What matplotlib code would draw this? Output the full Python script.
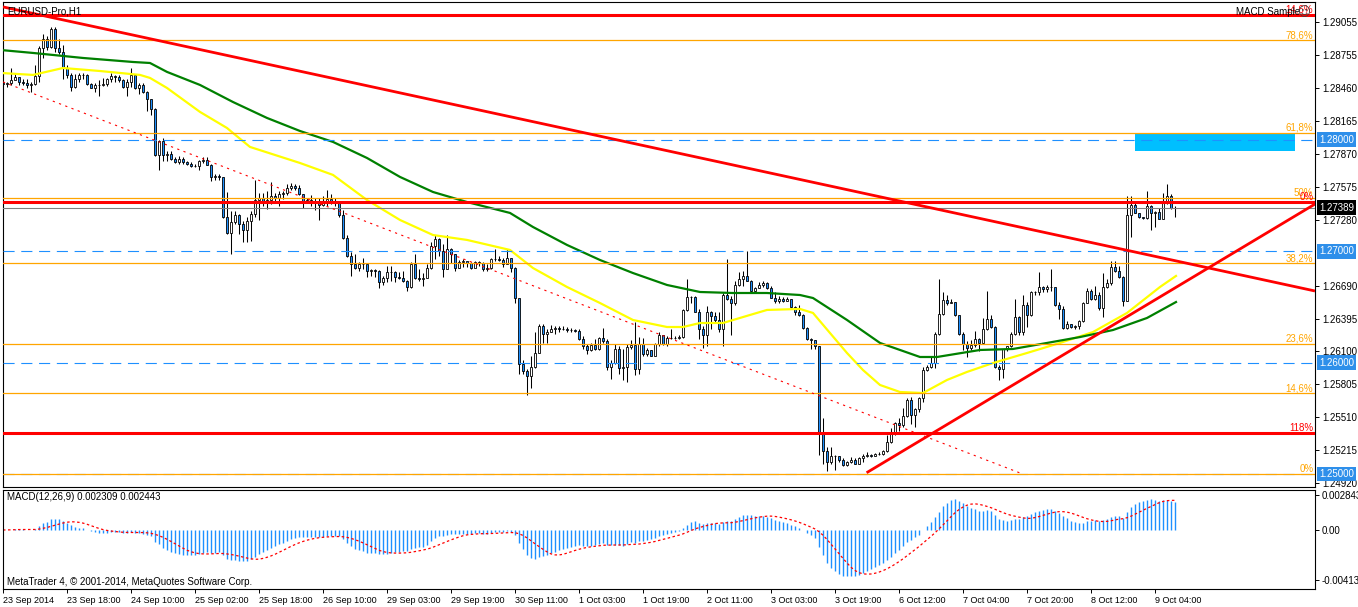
import numpy as np
import pandas as pd
import matplotlib
matplotlib.use('Agg')
import matplotlib.pyplot as plt
import matplotlib.transforms as mtransforms

plt.rcParams['font.family'] = ['Liberation Sans', 'DejaVu Sans']
plt.rcParams['font.size'] = 7

# EURUSD H1 candles, bar 0 = 23 Sep 2014 02:00 (open of each bar = previous close)
first_open = 1.2851
closes = [
    1.2850, 1.2851, 1.2853, 1.2856, 1.2852, 1.2851, 1.2849, 1.2850, 1.2857, 1.2882,
    1.2890, 1.2883, 1.2899, 1.2882, 1.2879, 1.2864, 1.2858, 1.2847, 1.2854, 1.2858,
    1.2858, 1.2850, 1.2846, 1.2849, 1.2849, 1.2850, 1.2854, 1.2857, 1.2856, 1.2853,
    1.2847, 1.2852, 1.2858, 1.2846, 1.2849, 1.2843, 1.2836, 1.2827, 1.2786, 1.2799,
    1.2786, 1.2787, 1.2783, 1.2780, 1.2783, 1.2780, 1.2778, 1.2776, 1.2776, 1.2781,
    1.2782, 1.2777, 1.2766, 1.2767, 1.2766, 1.2731, 1.2716, 1.2726, 1.2732, 1.2724,
    1.2719, 1.2727, 1.2733, 1.2746, 1.2748, 1.2744, 1.2746, 1.2749, 1.2748, 1.2751,
    1.2752, 1.2757, 1.2758, 1.2757, 1.2751, 1.2745, 1.2746, 1.2743, 1.2744, 1.2741,
    1.2745, 1.2747, 1.2745, 1.2745, 1.2732, 1.2712, 1.2696, 1.2688, 1.2685, 1.2688,
    1.2688, 1.2682, 1.2683, 1.2682, 1.2672, 1.2676, 1.2681, 1.2681, 1.2677, 1.2676,
    1.2673, 1.2668, 1.2688, 1.2676, 1.2675, 1.2676, 1.2685, 1.2705, 1.2711, 1.2700,
    1.2684, 1.2702, 1.2697, 1.2685, 1.2690, 1.2691, 1.2689, 1.2685, 1.2690, 1.2689,
    1.2684, 1.2685, 1.2693, 1.2693, 1.2692, 1.2688, 1.2694, 1.2685, 1.2658, 1.2599,
    1.2592, 1.2588, 1.2596, 1.2609, 1.2633, 1.2626, 1.2627, 1.2630, 1.2631, 1.2630,
    1.2630, 1.2629, 1.2629, 1.2628, 1.2621, 1.2615, 1.2611, 1.2616, 1.2612, 1.2622,
    1.2619, 1.2596, 1.2600, 1.2612, 1.2595, 1.2596, 1.2614, 1.2616, 1.2594, 1.2617,
    1.2608, 1.2611, 1.2606, 1.2617, 1.2625, 1.2617, 1.2622, 1.2622, 1.2622, 1.2623,
    1.2647, 1.2659, 1.2659, 1.2645, 1.2630, 1.2625, 1.2645, 1.2642, 1.2638, 1.2630,
    1.2661, 1.2657, 1.2653, 1.2670, 1.2675, 1.2678, 1.2673, 1.2664, 1.2667, 1.2670,
    1.2671, 1.2667, 1.2658, 1.2655, 1.2657, 1.2655, 1.2657, 1.2650, 1.2645, 1.2643,
    1.2631, 1.2621, 1.2620, 1.2615, 1.2538, 1.2521, 1.2511, 1.2516, 1.2516, 1.2513,
    1.2508, 1.2511, 1.2513, 1.2509, 1.2514, 1.2516, 1.2517, 1.2516, 1.2518, 1.2518,
    1.2521, 1.2529, 1.2536, 1.2546, 1.2544, 1.2552, 1.2566, 1.2553, 1.2558, 1.2568,
    1.2593, 1.2596, 1.2600, 1.2626, 1.2644, 1.2656, 1.2653, 1.2654, 1.2643, 1.2626,
    1.2617, 1.2613, 1.2616, 1.2621, 1.2618, 1.2630, 1.2639, 1.2632, 1.2596, 1.2594,
    1.2612, 1.2615, 1.2626, 1.2641, 1.2627, 1.2652, 1.2643, 1.2663, 1.2663, 1.2668,
    1.2666, 1.2668, 1.2668, 1.2652, 1.2648, 1.2631, 1.2635, 1.2632, 1.2633, 1.2637,
    1.2653, 1.2664, 1.2657, 1.2661, 1.2649, 1.2668, 1.2671, 1.2686, 1.2682, 1.2677,
    1.2655, 1.2732, 1.2741, 1.2734, 1.2731, 1.2730, 1.2740, 1.2734, 1.2735, 1.2729,
    1.2743, 1.2749, 1.2739, 1.2739,
]
highs = [
    1.2852, 1.2852, 1.2864, 1.2860, 1.2855, 1.2854, 1.2854, 1.2852, 1.2867, 1.2884,
    1.2895, 1.2893, 1.2901, 1.2901, 1.2890, 1.2885, 1.2867, 1.2860, 1.2859, 1.2860,
    1.2860, 1.2859, 1.2851, 1.2851, 1.2853, 1.2855, 1.2855, 1.2860, 1.2858, 1.2858,
    1.2854, 1.2854, 1.2864, 1.2859, 1.2851, 1.2851, 1.2844, 1.2836, 1.2828, 1.2800,
    1.2801, 1.2790, 1.2790, 1.2784, 1.2785, 1.2784, 1.2781, 1.2780, 1.2778, 1.2782,
    1.2784, 1.2784, 1.2778, 1.2769, 1.2769, 1.2766, 1.2753, 1.2736, 1.2736, 1.2733,
    1.2727, 1.2731, 1.2736, 1.2764, 1.2752, 1.2752, 1.2754, 1.2762, 1.2752, 1.2754,
    1.2754, 1.2760, 1.2761, 1.2760, 1.2759, 1.2751, 1.2748, 1.2750, 1.2748, 1.2748,
    1.2749, 1.2755, 1.2751, 1.2748, 1.2745, 1.2737, 1.2714, 1.2699, 1.2697, 1.2690,
    1.2694, 1.2685, 1.2684, 1.2684, 1.2683, 1.2678, 1.2687, 1.2687, 1.2682, 1.2681,
    1.2682, 1.2674, 1.2690, 1.2697, 1.2684, 1.2680, 1.2688, 1.2708, 1.2714, 1.2712,
    1.2706, 1.2714, 1.2703, 1.2697, 1.2692, 1.2693, 1.2690, 1.2690, 1.2691, 1.2691,
    1.2690, 1.2688, 1.2694, 1.2702, 1.2696, 1.2694, 1.2702, 1.2694, 1.2686, 1.2657,
    1.2602, 1.2594, 1.2606, 1.2627, 1.2635, 1.2635, 1.2630, 1.2634, 1.2633, 1.2633,
    1.2633, 1.2632, 1.2631, 1.2630, 1.2630, 1.2624, 1.2617, 1.2618, 1.2621, 1.2623,
    1.2631, 1.2621, 1.2602, 1.2617, 1.2615, 1.2612, 1.2617, 1.2620, 1.2636, 1.2623,
    1.2622, 1.2613, 1.2611, 1.2618, 1.2627, 1.2621, 1.2624, 1.2630, 1.2624, 1.2625,
    1.2648, 1.2675, 1.2660, 1.2660, 1.2648, 1.2633, 1.2651, 1.2646, 1.2645, 1.2645,
    1.2662, 1.2693, 1.2660, 1.2673, 1.2681, 1.2682, 1.2700, 1.2674, 1.2668, 1.2672,
    1.2673, 1.2672, 1.2669, 1.2663, 1.2660, 1.2659, 1.2659, 1.2657, 1.2651, 1.2652,
    1.2644, 1.2632, 1.2622, 1.2620, 1.2615, 1.2550, 1.2524, 1.2524, 1.2517, 1.2516,
    1.2514, 1.2512, 1.2515, 1.2514, 1.2515, 1.2518, 1.2520, 1.2518, 1.2519, 1.2520,
    1.2522, 1.2535, 1.2541, 1.2547, 1.2550, 1.2559, 1.2568, 1.2569, 1.2559, 1.2569,
    1.2596, 1.2598, 1.2605, 1.2627, 1.2675, 1.2663, 1.2661, 1.2657, 1.2654, 1.2643,
    1.2627, 1.2619, 1.2620, 1.2628, 1.2622, 1.2640, 1.2664, 1.2643, 1.2633, 1.2598,
    1.2612, 1.2615, 1.2627, 1.2657, 1.2642, 1.2661, 1.2654, 1.2664, 1.2664, 1.2681,
    1.2669, 1.2670, 1.2684, 1.2665, 1.2654, 1.2651, 1.2637, 1.2635, 1.2634, 1.2638,
    1.2654, 1.2667, 1.2666, 1.2669, 1.2663, 1.2680, 1.2675, 1.2691, 1.2691, 1.2687,
    1.2678, 1.2749, 1.2749, 1.2743, 1.2734, 1.2731, 1.2754, 1.2741, 1.2736, 1.2739,
    1.2752, 1.2760, 1.2751, 1.2740,
]
lows = [
    1.2848, 1.2847, 1.2849, 1.2854, 1.2849, 1.2849, 1.2846, 1.2843, 1.2849, 1.2852,
    1.2873, 1.2880, 1.2882, 1.2879, 1.2877, 1.2854, 1.2855, 1.2844, 1.2846, 1.2852,
    1.2854, 1.2849, 1.2846, 1.2843, 1.2839, 1.2848, 1.2848, 1.2852, 1.2852, 1.2852,
    1.2846, 1.2839, 1.2847, 1.2845, 1.2841, 1.2842, 1.2826, 1.2822, 1.2785, 1.2773,
    1.2781, 1.2781, 1.2782, 1.2779, 1.2778, 1.2778, 1.2777, 1.2775, 1.2775, 1.2773,
    1.2779, 1.2777, 1.2763, 1.2764, 1.2764, 1.2730, 1.2715, 1.2697, 1.2724, 1.2715,
    1.2708, 1.2708, 1.2709, 1.2731, 1.2728, 1.2740, 1.2738, 1.2742, 1.2743, 1.2740,
    1.2747, 1.2750, 1.2755, 1.2755, 1.2750, 1.2739, 1.2743, 1.2740, 1.2737, 1.2728,
    1.2740, 1.2740, 1.2742, 1.2740, 1.2731, 1.2711, 1.2695, 1.2678, 1.2684, 1.2682,
    1.2684, 1.2677, 1.2678, 1.2677, 1.2667, 1.2670, 1.2672, 1.2673, 1.2672, 1.2675,
    1.2672, 1.2664, 1.2667, 1.2675, 1.2673, 1.2669, 1.2677, 1.2684, 1.2693, 1.2696,
    1.2677, 1.2684, 1.2689, 1.2682, 1.2685, 1.2686, 1.2686, 1.2684, 1.2686, 1.2687,
    1.2682, 1.2682, 1.2684, 1.2691, 1.2691, 1.2686, 1.2688, 1.2681, 1.2653, 1.2590,
    1.2590, 1.2571, 1.2577, 1.2595, 1.2611, 1.2618, 1.2618, 1.2627, 1.2626, 1.2627,
    1.2629, 1.2627, 1.2627, 1.2627, 1.2620, 1.2612, 1.2608, 1.2610, 1.2611, 1.2611,
    1.2618, 1.2593, 1.2585, 1.2599, 1.2590, 1.2584, 1.2583, 1.2612, 1.2589, 1.2590,
    1.2606, 1.2606, 1.2606, 1.2606, 1.2615, 1.2616, 1.2615, 1.2621, 1.2621, 1.2621,
    1.2622, 1.2646, 1.2653, 1.2645, 1.2621, 1.2613, 1.2615, 1.2630, 1.2636, 1.2627,
    1.2615, 1.2656, 1.2625, 1.2652, 1.2669, 1.2669, 1.2673, 1.2663, 1.2662, 1.2667,
    1.2668, 1.2666, 1.2658, 1.2653, 1.2653, 1.2654, 1.2655, 1.2649, 1.2643, 1.2642,
    1.2630, 1.2620, 1.2612, 1.2612, 1.2517, 1.2509, 1.2503, 1.2509, 1.2504, 1.2511,
    1.2507, 1.2507, 1.2510, 1.2509, 1.2509, 1.2511, 1.2515, 1.2515, 1.2516, 1.2517,
    1.2517, 1.2520, 1.2528, 1.2535, 1.2539, 1.2542, 1.2551, 1.2545, 1.2542, 1.2556,
    1.2565, 1.2592, 1.2595, 1.2595, 1.2625, 1.2643, 1.2652, 1.2653, 1.2642, 1.2625,
    1.2611, 1.2605, 1.2611, 1.2614, 1.2610, 1.2617, 1.2629, 1.2631, 1.2595, 1.2584,
    1.2586, 1.2610, 1.2614, 1.2625, 1.2625, 1.2625, 1.2632, 1.2642, 1.2661, 1.2661,
    1.2663, 1.2663, 1.2664, 1.2651, 1.2639, 1.2630, 1.2630, 1.2631, 1.2630, 1.2630,
    1.2636, 1.2653, 1.2656, 1.2656, 1.2647, 1.2641, 1.2667, 1.2670, 1.2681, 1.2676,
    1.2651, 1.2655, 1.2713, 1.2734, 1.2730, 1.2729, 1.2729, 1.2719, 1.2722, 1.2729,
    1.2729, 1.2742, 1.2738, 1.2731,
]

# moving averages (bar index, price)
yellow_bar = [-0.75, 7.5, 15, 24.25, 34.25, 36.75, 41, 49.25, 56, 57.5, 61.75, 74.25, 82.5, 91,
              99.25, 107.5, 116, 126.75, 132.5, 141, 149.25, 157.5, 166, 170, 174.25, 180,
              186.75, 191, 199.25, 202.5, 206.75, 211, 215, 219.25, 224.25, 230, 236, 241,
              247.5, 256, 264.25, 272.5, 281, 289.25, 293.25]
yellow_val = [1.28598, 1.28580, 1.28642, 1.28615, 1.28580, 1.28553, 1.28463, 1.28248, 1.28104,
              1.28059, 1.27934, 1.27790, 1.27683, 1.27458, 1.27279, 1.27144, 1.27100, 1.27010,
              1.26848, 1.26678, 1.26534, 1.26382, 1.26319, 1.26319, 1.26355, 1.26355, 1.26427,
              1.26472, 1.26481, 1.26445, 1.26265, 1.26086, 1.25933, 1.25799, 1.25736, 1.25727,
              1.25844, 1.25916, 1.25996, 1.26086, 1.26176, 1.26274, 1.26445, 1.26678, 1.26777]
green_bar = [-0.75, 7.5, 20, 32.5, 36.75, 41, 49.25, 57.5, 66, 74.25, 82.5, 91, 99.25, 107.5,
             116, 126.75, 132.5, 141, 149.25, 157.5, 166, 174.25, 182.5, 191, 199.25, 202.5,
             211, 219.25, 229.25, 233.5, 244.25, 252.5, 261, 269.25, 277.5, 286, 293.25]
green_val = [1.28804, 1.28777, 1.28732, 1.28696, 1.28687, 1.28607, 1.28490, 1.28337, 1.28194,
             1.28077, 1.27979, 1.27835, 1.27665, 1.27530, 1.27440, 1.27342, 1.27216, 1.27055,
             1.26920, 1.26803, 1.26696, 1.26633, 1.26624, 1.26624, 1.26606, 1.26579, 1.26382,
             1.26176, 1.26050, 1.26050, 1.26113, 1.26122, 1.26176, 1.26229, 1.26292, 1.26400,
             1.26543]

# chart objects
fib_low, fib_high = 1.2500, 1.2995
fib_levels = [0, 14.6, 23.6, 38.2, 50, 61.8, 78.6]
fib_labels = ['0%', '14,6%', '23,6%', '38,2%', '50%', '61,8%', '78,6%']
red_levels = [1.29120, 1.27443, 1.25371]
red_labels = ['14,6%', '0%', '118%']
round_levels = [1.2800, 1.2700, 1.2600, 1.2500]
last_price = 1.27389
down_trend = ([0, 328], [1.29190, 1.26642])
up_trend = ([215.9, 328], [1.25012, 1.27422])
dotted_trend = ([0, 254.25], [1.28517, 1.25010])
zone = (283, 323, 1.27899, 1.28055)

price_ticks = [1.29055, 1.28755, 1.28460, 1.28165, 1.27870, 1.27575, 1.27280, 1.26690,
               1.26395, 1.26100, 1.25805, 1.25510, 1.25215, 1.24920]
macd_ticks = [0.002843, 0.0, -0.004132]
macd_tick_labels = ['0.002843', '0.00', '-0.004132']
time_labels = ['23 Sep 2014', '23 Sep 18:00', '24 Sep 10:00', '25 Sep 02:00', '25 Sep 18:00',
               '26 Sep 10:00', '29 Sep 03:00', '29 Sep 19:00', '30 Sep 11:00', '1 Oct 03:00',
               '1 Oct 19:00', '2 Oct 11:00', '3 Oct 03:00', '3 Oct 19:00', '6 Oct 12:00',
               '7 Oct 04:00', '7 Oct 20:00', '8 Oct 12:00', '9 Oct 04:00']
time_label_step = 16

closes = np.array(closes)
highs = np.array(highs)
lows = np.array(lows)
opens = np.r_[first_open, closes[:-1]]
bars = np.arange(len(closes))

# MACD(12,26,9) as MT4 computes it
cs = pd.Series(closes)
macd = cs.ewm(span=12, adjust=False).mean() - cs.ewm(span=26, adjust=False).mean()
signal = macd.rolling(9, min_periods=1).mean()

W, H = 1358, 607
fig = plt.figure(figsize=(W / 100, H / 100), dpi=100)
L, R = 2.5, 1315
ax = fig.add_axes([L / W, (H - 487) / H, (R - L) / W, (487 - 2) / H])
ax2 = fig.add_axes([L / W, (H - 589) / H, (R - L) / W, (589 - 489.5) / H])

xlim = ((L - 3) / 4, (R - 3) / 4)
ax.set_xlim(xlim)
ax2.set_xlim(xlim)
ax.set_ylim(1.24884, 1.29234)
ax2.set_ylim(-0.004862, 0.003336)

# candles
up = closes >= opens
ax.vlines(bars, lows, highs, color='black', lw=0.75, zorder=2)
ax.bar(bars[up], closes[up] - opens[up], bottom=opens[up], width=0.6,
       color='white', edgecolor='black', linewidth=0.6, zorder=3)
ax.bar(bars[~up], closes[~up] - opens[~up], bottom=opens[~up], width=0.6,
       color='#1E90FF', edgecolor='black', linewidth=0.6, zorder=3)

# moving averages
ax.plot(yellow_bar, yellow_val, color='#FFFF00', lw=1.6, zorder=4)
ax.plot(green_bar, green_val, color='#008000', lw=1.6, zorder=4)

# horizontal objects
for lvl in round_levels:
    ax.axhline(lvl, color='#1E90FF', lw=0.8, dashes=(10, 6), zorder=5)
ax.axhspan(zone[2], zone[3], xmin=(zone[0] - xlim[0]) / (xlim[1] - xlim[0]),
           xmax=(zone[1] - xlim[0]) / (xlim[1] - xlim[0]), color='#00BFFF', lw=0, zorder=4.5)
ax.axhline(last_price, color='#808080', lw=0.8, zorder=5)

fib_prices = [fib_low + lv / 100 * (fib_high - fib_low) for lv in fib_levels]
for p, lab in zip(fib_prices, fib_labels):
    ax.axhline(p, color='#FFA500', lw=0.9, zorder=5)
    ax.text(xlim[1] - 0.4, p, lab, color='#FFA500', ha='right', va='bottom', fontsize=7, zorder=6)
for p, lab in zip(red_levels, red_labels):
    ax.axhline(p, color='#FF0000', lw=2.2, zorder=5)
    ax.text(xlim[1] - 0.4, p, lab, color='#FF0000', ha='right', va='bottom', fontsize=7, zorder=6)

# trend lines
ax.plot(*down_trend, color='#FF0000', lw=2, zorder=5, solid_capstyle='butt')
ax.plot(*up_trend, color='#FF0000', lw=2, zorder=5, solid_capstyle='butt')
ax.plot(*dotted_trend, color='#FF0000', lw=0.8, dashes=(2, 4), zorder=5)

# MACD panel
ax2.vlines(bars, 0, macd, color='#1E90FF', lw=1.0)
ax2.plot(bars, signal, color='#FF0000', lw=0.9, dashes=(2, 2))

for a in (ax, ax2):
    for s in a.spines.values():
        s.set_linewidth(0.8)
        s.set_color('black')
    a.yaxis.tick_right()
    a.tick_params(axis='y', direction='out', length=3, width=0.7, pad=2, labelsize=7)

ax.set_yticks(price_ticks)
ax.set_yticklabels([f'{v:.5f}' for v in price_ticks])
ax.set_xticks([])
ax2.set_yticks(macd_ticks)
ax2.set_yticklabels(macd_tick_labels)
ax2.set_xticks(np.arange(len(time_labels)) * time_label_step)
ax2.set_xticklabels(time_labels, ha='left')
ax2.tick_params(axis='x', direction='out', length=3, width=0.7, pad=2, labelsize=6.5)

# price tags on the axis
tag_tr = mtransforms.offset_copy(mtransforms.blended_transform_factory(ax.transAxes, ax.transData),
                                 fig=fig, x=4, y=0, units='dots')
for lvl in round_levels:
    ax.text(1.0, lvl, f'{lvl:.5f}', transform=tag_tr, color='white', va='center', ha='left',
            fontsize=7, clip_on=False, zorder=10,
            bbox=dict(boxstyle='square,pad=0.25', fc='#2E8FEA', ec='none'))
ax.text(1.0, last_price, f'{last_price:.5f}', transform=tag_tr, color='white', va='center',
        ha='left', fontsize=7, clip_on=False, zorder=10,
        bbox=dict(boxstyle='square,pad=0.25', fc='black', ec='none'))

# captions
fig.text(7 / W, 1 - 11 / H, 'EURUSD-Pro,H1', va='center', ha='left', fontsize=7)
fig.text(1236 / W, 1 - 12 / H, 'MACD Sample', va='center', ha='left', fontsize=7)
fig.text(1304 / W, 1 - 13 / H, '\u263a', va='center', ha='center', fontsize=9,
         color='#404040', family='DejaVu Sans')
fig.text(7 / W, 1 - 497 / H, f'MACD(12,26,9) {0.002309:.6f} {0.002443:.6f}', va='center',
         ha='left', fontsize=7)
fig.text(7 / W, 1 - 582 / H, 'MetaTrader 4, \u00a9 2001-2014, MetaQuotes Software Corp.',
         va='center', ha='left', fontsize=7)

fig.savefig('out.png', dpi=100, facecolor='white')
